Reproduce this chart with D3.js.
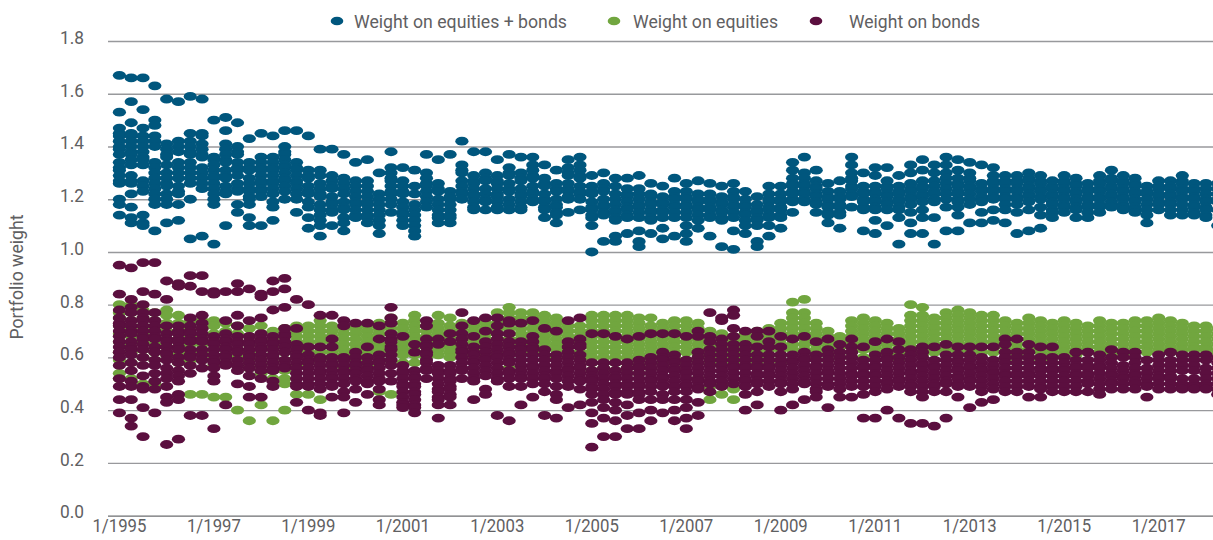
<!DOCTYPE html>
<html>
<head>
<meta charset="utf-8">
<script src="https://cdn.jsdelivr.net/npm/d3@7"></script>
<style>
    html, body { margin: 0; padding: 0; background: #fff; overflow: hidden; }
    text { font-family: Roboto, sans-serif; font-weight: 400; fill: #5f6062; }
</style>
</head>
<body>
<div id="chart"></div>
<script>
// tick labels
let xTickLabels = ["1/1995","1/1997","1/1999","1/2001","1/2003","1/2005","1/2007","1/2009","1/2011","1/2013","1/2015","1/2017"];
let yTickValues = [0,20,40,60,80,100,120,140,160,180];

let seriesNames = ["Weight on equities + bonds","Weight on equities","Weight on bonds"];
let seriesColors = ["#00567d","#71a63f","#5b0f3f"];

// one list per quarter from 1/1995, weights in hundredths
let blendWeights = [
[167,153,147,145,144,142,140,139,137,134,132,131,129,127,126,120,118,114],
[166,157,149,145,144,142,140,138,137,135,133,129,127,126,122,117,113,111],
[166,154,147,144,142,140,138,136,135,133,127,125,123,114,111,110],
[163,150,148,144,142,140,134,132,130,128,126,124,122,120,118,108],
[158,141,139,137,136,133,130,128,126,125,122,120,118,111],
[157,142,140,138,134,132,130,128,125,123,122,118,112],
[159,145,142,140,138,137,134,132,130,128,126,120,105],
[158,145,144,141,139,137,136,132,130,128,126,124,106],
[150,136,135,133,131,129,128,126,124,122,120,118,103],
[151,146,141,139,137,135,134,131,129,128,125,123,122,110],
[149,140,138,137,134,132,131,129,126,124,123,118,115],
[143,134,132,131,128,126,124,123,121,120,118,113,110],
[145,136,134,132,131,129,127,126,124,123,121,110],
[144,136,134,132,131,129,127,126,124,122,119,117,112],
[146,140,138,137,135,133,132,130,128,127,125,123,120],
[146,134,132,131,129,127,126,124,122,120,115],
[144,131,129,128,125,123,122,119,117,113,109],
[139,131,129,126,124,122,121,118,116,114,112,110,106],
[139,129,127,125,124,121,119,118,116,115,110],
[137,128,126,124,122,119,117,116,113,111,108],
[134,127,125,123,121,119,118,116,114,113],
[135,127,125,123,121,119,118,116,114,113,111],
[130,122,120,118,116,114,112,110,107],
[138,132,130,128,127,125,123,122,120,118,115],
[132,127,125,123,122,119,117,115,114,112,110],
[131,125,122,118,116,114,112,110,108,106],
[137,130,128,126,125,123,121,119,117],
[135,126,124,123,120,118,116,114,113,111],
[137,123,121,120,118,116,114,113,111],
[142,133,131,130,127,125,123,122,120],
[138,129,127,126,124,122,121,119,117,116],
[138,130,128,127,124,122,120,119,116],
[135,129,127,126,124,122,121,119,117,116],
[137,132,130,129,126,124,123,120,118,116],
[136,130,128,127,124,122,121,119,117,116],
[136,133,131,129,128,125,123,122,120,119],
[133,128,126,125,122,120,119,117,116,113],
[131,126,124,123,120,118,117,115,114,111],
[135,132,130,129,126,124,123,121,120,115],
[136,133,131,129,128,125,123,122,120,116],
[129,125,123,122,119,117,116,114,113,110,100],
[130,126,124,123,120,118,117,115,114,104],
[128,125,122,120,118,116,115,113,112,106,104],
[128,124,122,121,119,117,116,114,113,107],
[129,124,122,120,118,117,115,113,108,104,102],
[126,122,121,119,118,116,115,113,112,107],
[125,121,119,118,116,115,113,109,105],
[128,123,121,120,118,117,115,113,106],
[126,123,121,120,118,117,115,113,110,107,104],
[127,122,120,119,117,116,114,112,109],
[126,122,120,119,117,116,114,113,106],
[125,121,119,118,116,115,113,112,102],
[126,123,121,120,118,117,115,113,108,101],
[123,120,118,117,115,114,112,110,107],
[121,118,116,115,113,112,110,104,102],
[125,122,120,119,117,116,114,113,110,106],
[125,122,120,119,117,116,114,113,109],
[134,131,128,126,125,123,122,120,119,115],
[136,130,128,126,125,123,122,120,119],
[131,127,125,124,122,121,119,118,115],
[126,123,121,120,118,117,115,114,111],
[127,123,121,120,118,117,115,114,109],
[136,133,130,128,127,125,124,122,121,117],
[130,125,123,122,120,119,117,116,108],
[132,129,125,123,122,120,119,117,116,112,107],
[132,127,125,124,122,121,119,118,116,110],
[129,125,123,122,120,119,117,116,113,103],
[133,130,126,124,123,121,120,118,115,111,107],
[135,131,127,125,124,122,121,119,116,113,107],
[133,130,127,125,123,122,120,119,113,103],
[136,133,130,128,126,124,122,120,117,108],
[135,131,128,126,125,123,122,120,119,117,114,108],
[134,130,128,127,125,124,122,120,118,111],
[133,126,124,123,121,120,119,115,111],
[132,129,127,126,124,123,121,120,116,112],
[129,127,126,124,123,121,120,118,116,111],
[129,127,126,124,123,121,120,118,115,107],
[130,128,127,125,124,122,121,119,116,108],
[129,127,126,124,123,121,120,117,114,109],
[127,125,124,122,121,119,118,116,115,113],
[129,127,126,124,123,121,120,118,117,115],
[128,126,125,123,122,120,119,117,116,113],
[126,124,123,121,120,118,117,115,113],
[129,127,126,124,123,121,120,118,117,115],
[131,128,127,125,124,122,121,119,118,117],
[129,127,126,124,123,121,120,118,117,116],
[128,126,125,123,122,120,119,117,116,115],
[125,123,122,120,118,116,114,111],
[127,125,124,122,121,119,118,116],
[127,125,124,122,121,119,118,116,114],
[129,127,126,124,123,121,120,118,116,114],
[126,124,123,121,120,118,117,115,114],
[126,124,122,120,119,117,116,114,113],
[126,124,122,120,119,116,110]
];

let equityWeights = [
[80,77,75,72,69,66,62,59,54,52],
[80,77,74,71,68,65,62,58,52],
[78,75,72,69,66,63,60,50],
[77,74,71,68,65,62,59,50],
[78,76,73,70,67,64,61],
[76,73,70,67,64,61,58],
[74,71,68,65,62,59,46],
[74,71,68,65,62,59,46],
[74,72,69,66,63,60,57,45],
[73,70,67,64,61,58,45],
[72,69,66,63,60,57,40],
[71,68,65,62,59,56,36],
[72,69,66,63,60,57,54,42],
[70,67,64,61,58,55,52,36],
[71,68,65,62,59,55,52,50,40],
[72,70,68,66,64,62,60,57,46],
[72,70,68,66,64,62,60,58,46],
[74,72,70,68,66,64,62,59,44],
[72,70,68,66,64,62,60,57],
[71,69,67,65,63,61,59,56],
[71,69,67,65,63,61,59,56],
[72,70,68,66,64,62,60,57],
[73,71,69,67,65,63,61,58,47],
[75,73,71,69,67,65,62,59,46],
[73,71,69,67,65,63,61,58],
[76,74,72,70,68,66,64,61,58],
[72,70,68,66,64,62,60],
[76,73,71,69,67,65,63,61],
[75,72,70,68,66,64,62,60],
[73,71,69,67,65,63,61],
[72,70,68,66,64,62,60],
[73,71,69,67,65,63,61],
[77,75,73,71,69,67,65,62],
[79,77,75,73,71,69,67,64,61,56],
[77,75,73,71,69,67,65,62],
[77,75,73,71,69,67,65,62],
[76,74,72,70,68,66,64,61],
[75,73,71,69,67,65,63,60],
[72,70,68,66,64,62,60],
[72,70,68,66,64,62,60],
[76,74,72,70,68,66,64,62,60,58,55],
[76,74,72,70,68,66,64,62,60,58,56],
[76,74,72,70,68,66,64,62,60,58,55],
[76,74,72,70,68,66,64,62,60,58,56],
[75,73,71,69,67,65,63,61,59,57,54],
[75,72,70,68,66,64,62,60,58,56],
[73,71,69,67,65,63,61,58],
[74,72,70,68,66,64,62,60,58,56],
[74,72,70,68,66,64,62,59],
[73,71,69,67,65,63,61,58,52],
[70,68,66,64,62,60,58,49,47,44],
[69,67,65,63,61,59,57,50,46],
[68,66,64,62,60,58,48,44],
[69,67,65,63,61,59,57],
[70,68,66,64,62,60,58],
[71,69,67,65,63,61,59],
[73,71,69,67,65,63,61,58],
[81,77,75,73,71,69,67,65,63],
[82,77,75,73,71,69,67,65,63,60],
[73,71,69,67,65,63,61],
[70,68,66,64,62,59],
[68,66,64,62,60],
[74,72,70,68,66,64,62],
[75,73,71,69,67,65,63,60],
[74,72,70,68,66,64,62],
[73,71,69,67,65,63,61],
[71,69,67,65,63,61,59],
[80,76,74,72,70,68,66,64,62],
[79,76,74,72,70,68,66,64,61],
[75,73,71,69,67,65,63,62],
[77,75,73,71,69,67,65,63],
[78,76,74,72,70,68,66,64,62],
[77,75,73,71,69,67,65,63],
[76,74,72,70,68,66,64,62],
[76,74,72,70,68,66,64,62],
[74,72,70,68,66,64,62,59],
[73,71,69,67,65,63,61,58],
[75,73,71,69,67,65,63,60],
[74,72,70,68,66,64,62,59],
[73,71,69,67,65,63,61,58],
[74,72,70,68,66,64,62],
[73,71,69,67,65,63,61],
[72,70,68,66,64,62],
[74,72,70,68,66,64,62],
[73,71,69,67,65,63,62],
[73,71,69,67,65,63,61],
[74,72,70,68,66,64,62],
[74,72,70,68,66,64,62],
[75,73,71,69,67,65,63],
[74,72,70,68,66,64,62],
[73,71,69,67,65,63,61],
[72,70,68,66,64,63,61],
[72,70,68,66,64,63,61],
[71,69,67,65,63,62,60]
];

let bondWeights = [
[95,84,78,75,73,72,70,68,66,64,62,60,57,52,49,44,39],
[94,82,79,77,74,72,70,69,66,64,63,61,58,55,51,49,44,37,34],
[96,85,80,77,75,74,72,70,68,67,65,63,60,57,53,49,48,41,30],
[96,84,77,74,72,70,68,67,64,62,59,57,54,51,48,39],
[89,82,72,69,67,66,64,62,61,59,56,54,52,49,45,43,27],
[88,87,72,70,69,67,66,64,63,60,58,55,53,51,46,44,29],
[91,87,75,72,70,69,67,66,63,61,60,57,54,38],
[91,85,76,73,71,69,67,66,63,61,59,56,38],
[85,84,68,66,65,63,61,59,58,56,53,51,33],
[85,74,69,67,66,64,63,61,60,58,57,42],
[88,85,76,72,68,66,65,63,62,59,57,55,50],
[86,74,68,66,65,63,61,60,58,56,53,49,45],
[84,83,75,69,67,66,64,63,61,59,57,55,52,45],
[89,85,78,68,66,65,63,61,60,58,56,55,51,49],
[90,86,79,71,69,68,66,64,62,59,57,56],
[82,71,65,63,61,60,58,56,54,52,50,49,43],
[80,64,61,59,58,56,54,52,50,49,40],
[76,64,60,59,57,55,54,52,50,48,39,38],
[76,67,64,60,58,57,55,53,52,50,49,45],
[74,72,60,59,57,55,54,52,50,47,45,39],
[73,62,60,58,57,55,54,52,51,48,43],
[73,64,60,58,56,55,53,51,50,46],
[72,67,61,59,58,56,54,52,51,48,44,42],
[79,75,73,69,67,66,64,63,61,59,57,54,51],
[68,57,55,54,52,50,49,47,45,43,42,41],
[65,62,55,53,52,50,49,47,46,44,42,41,39],
[74,72,67,65,64,62,61,59,58,56,55,52],
[67,65,57,55,54,52,50,48,47,45,44,42,37],
[69,66,57,55,54,52,51,49,48,46,45,42],
[77,72,69,67,65,63,62,60,58,56,55,52],
[74,68,64,62,61,59,58,56,54,52,51,44],
[75,70,66,64,62,60,59,57,55,53,48,46],
[75,72,69,67,65,63,61,60,58,56,54,52,51,38],
[74,73,69,66,64,62,61,59,58,55,54,52,49,36],
[73,66,64,63,61,59,57,55,53,52,49,42],
[74,68,66,64,63,61,59,57,56,54,52,50,45],
[71,63,61,59,57,55,53,52,50,47,38],
[70,61,59,57,55,54,52,49,46,44,37],
[74,66,64,62,60,58,56,55,53,51,49,41],
[75,67,65,64,61,59,57,56,54,52,51,48,42],
[69,58,55,53,52,51,49,48,46,43,39,35,26],
[69,58,56,54,52,50,48,46,44,41,37,30],
[68,58,55,53,52,50,49,47,46,43,40,36,30],
[67,58,56,54,52,50,49,47,46,42,38,33],
[68,59,57,56,54,52,50,49,47,46,44,39,33],
[69,60,58,56,54,52,51,49,47,44,40,36],
[69,62,60,59,57,55,53,52,50,49,46,44,39],
[69,61,59,58,56,55,53,51,49,47,44,40,36],
[68,59,57,55,54,52,50,49,47,44,41,37,33],
[70,68,62,60,58,56,54,52,51,49,48,43,38],
[77,68,66,63,61,59,57,55,53,51,50,47],
[75,74,67,65,63,61,59,57,55,53,51,49],
[78,76,71,68,65,63,61,59,57,56,54,52,50],
[70,65,63,61,59,57,56,54,52,51,49,46,40],
[70,68,64,61,59,57,56,54,53,51,50,47,42],
[70,66,64,61,59,57,56,54,53,51,49],
[68,64,61,59,57,55,53,51,50,47,40],
[67,61,59,58,56,54,52,50,48,42],
[68,62,60,59,57,55,53,51,50,44],
[66,61,59,57,56,54,52,50,48,47,45],
[67,63,61,59,57,55,54,52,50,49,41],
[65,62,60,58,56,54,52,50,48,45],
[67,64,62,60,58,56,54,53,51,49,45],
[64,59,57,56,54,53,51,49,46,37],
[66,61,59,57,56,54,53,51,49,47,37],
[67,62,60,59,57,55,53,51,50,48,40],
[66,63,60,58,56,54,52,51,49,37],
[63,61,59,57,55,54,52,50,49,47,35],
[64,62,60,58,57,55,53,51,49,47,45,35],
[64,59,57,56,54,52,50,49,47,34],
[65,61,59,57,55,53,51,50,47,37],
[64,61,59,58,56,55,53,52,50,49,45],
[64,61,59,57,56,54,52,51,49,41],
[64,60,58,56,55,53,51,49,47,43],
[64,59,57,55,54,52,50,48,44],
[67,65,62,60,58,56,54,53,51,49,47],
[67,62,60,58,56,54,53,51,49,47],
[65,62,60,58,56,54,53,51,49,45],
[64,60,58,56,55,53,51,49,48,45],
[64,60,58,56,55,53,51,49,47],
[60,58,56,55,53,51,49,47],
[62,59,57,56,54,53,51,49,47],
[62,59,57,56,54,53,51,50,47],
[61,59,57,56,54,52,50,48,46],
[63,60,58,56,54,53,51,50,48],
[62,60,57,55,53,52,50,48],
[62,60,58,56,54,53,51,50,48],
[59,56,54,52,50,49,45],
[61,59,57,55,53,52,50,48],
[62,59,57,55,53,52,50,48],
[61,59,57,55,52,50,49,48],
[61,59,57,55,52,50,49,48],
[61,59,56,54,52,50,49,48],
[60,58,56,54,52,50,48,46]
];

let margin = {left: 108, right: 0, top: 0, bottom: 0};
let width = 1213, height = 540;

let quarters = blendWeights.map(function(d, i) {
    return (i % 4 * 3 + 1) + "/" + (1995 + Math.floor(i / 4));
});

let svg = d3.select("#chart").append("svg")
    .attr("width", width)
    .attr("height", height)
    .style("display", "block");

let x = d3.scaleBand()
    .domain(quarters)
    .range([113.5, 113.5 + 11.81 * quarters.length]);

let y = d3.scaleLinear()
    .domain([0, 180])
    .range([515.7, 41]);

// gridlines and y labels
let yAxis = d3.axisLeft(y)
    .tickValues(yTickValues)
    .tickSize(-(width - margin.left))
    .tickPadding(24)
    .tickFormat(d => (d / 100).toFixed(1));

svg.append("g")
    .attr("class", "y-axis")
    .attr("transform", "translate(" + margin.left + ",0)")
    .call(yAxis)
    .call(g => g.select(".domain").remove())
    .call(g => g.selectAll(".tick line").attr("stroke", d => d === 0 ? "#6d6e71" : "#98999c").attr("stroke-width", 1.3))
    .call(g => g.selectAll(".tick text")
        .attr("dy", "0.12em")
        .attr("textLength", 24)
        .attr("lengthAdjust", "spacingAndGlyphs")
        .style("font-size", "19px")
        .style("font-family", "Roboto")
        .style("fill", "#5f6062"));

// x labels
let xAxis = d3.axisBottom(x)
    .tickValues(xTickLabels)
    .tickSize(0)
    .tickPadding(3);

svg.append("g")
    .attr("class", "x-axis")
    .attr("transform", "translate(0," + y(0) + ")")
    .call(xAxis)
    .call(g => g.select(".domain").remove())
    .call(g => g.selectAll(".tick text")
        .attr("textLength", 54)
        .attr("lengthAdjust", "spacingAndGlyphs")
        .style("font-size", "19px")
        .style("font-family", "Roboto")
        .style("fill", "#5f6062"));

// y axis title
svg.append("text")
    .attr("transform", "translate(23,277) rotate(-90)")
    .attr("text-anchor", "middle")
    .attr("textLength", 125)
    .attr("lengthAdjust", "spacingAndGlyphs")
    .style("font-size", "18px")
    .text("Portfolio weight");

// points, blend first so bonds end up on top
[blendWeights, equityWeights, bondWeights].forEach(function(series, s) {
    let rows = [];
    series.forEach(function(list, i) {
        list.forEach(function(v) { rows.push({quarter: quarters[i], value: v}); });
    });

    svg.append("g")
        .selectAll("ellipse")
        .data(rows)
        .enter()
        .append("ellipse")
        .attr("cx", d => x(d.quarter) + x.bandwidth() / 2)
        .attr("cy", d => y(d.value))
        .attr("rx", 6.6)
        .attr("ry", 4.4)
        .attr("fill", seriesColors[s]);
});

// legend
let legendX = [337, 614, 816];
let legendLen = [213, 145, 131];
let legend = svg.append("g").selectAll("g")
    .data(seriesNames)
    .enter()
    .append("g");

legend.append("ellipse")
    .attr("cx", (d, i) => legendX[i])
    .attr("cy", 21)
    .attr("rx", 6.3)
    .attr("ry", 4.3)
    .attr("fill", (d, i) => seriesColors[i]);

legend.append("text")
    .attr("x", (d, i) => legendX[i] + (i === 0 ? 17 : i === 1 ? 19 : 33))
    .attr("y", 28)
    .attr("textLength", (d, i) => legendLen[i])
    .attr("lengthAdjust", "spacingAndGlyphs")
    .style("font-size", "19px")
    .text(d => d);
</script>
</body>
</html>
